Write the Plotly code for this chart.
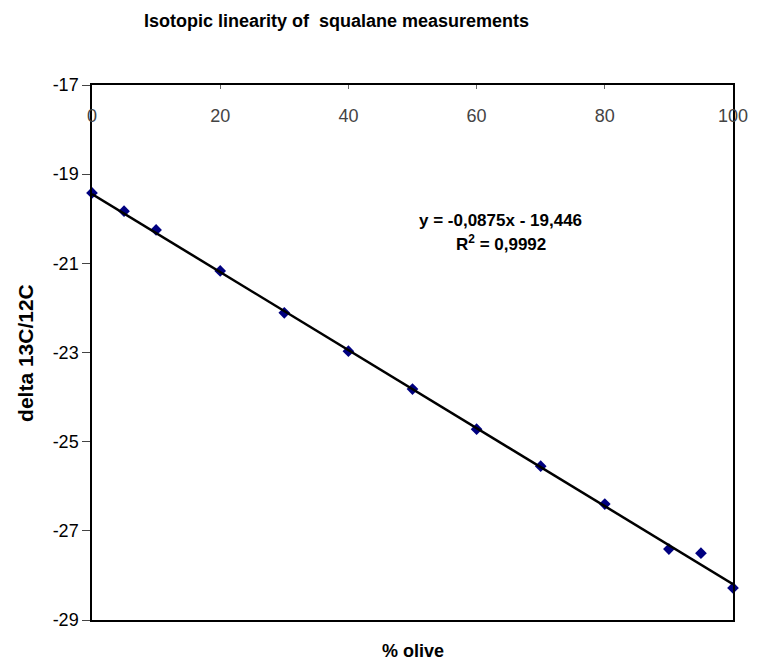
import plotly.graph_objects as go

olive_pct = [0, 5, 10, 20, 30, 40, 50, 60, 70, 80, 90, 95, 100]
delta_13c = [-19.42, -19.83, -20.25, -21.17, -22.11, -22.97, -23.82, -24.72, -25.55, -26.40, -27.41, -27.50, -28.28]
x_ticks = [0, 20, 40, 60, 80, 100]
y_ticks = [-17, -19, -21, -23, -25, -27, -29]
slope = -0.0875
intercept = -19.446
fit_x = [0, 100]
fit_y = [slope * x + intercept for x in fit_x]

font = "Liberation Sans, Arial, sans-serif"

W, H = 760, 663
l, r, t, b = 92, 18, 85, 43
pw, ph = W - l - r, H - t - b
def px_to_paper_x(px):
    return (px - l) / pw
def px_to_paper_y(py):
    return (H - b - py) / ph

fig = go.Figure()
fig.add_trace(go.Scatter(x=olive_pct, y=delta_13c, mode="markers",
                         marker=dict(symbol="diamond", color="#000080", size=9),
                         cliponaxis=False, showlegend=False))
fig.add_trace(go.Scatter(x=fit_x, y=fit_y, mode="lines",
                         line=dict(color="black", width=2.5),
                         cliponaxis=False, showlegend=False))

fig.update_layout(
    width=W, height=H,
    margin=dict(l=l, r=r, t=t, b=b),
    paper_bgcolor="white", plot_bgcolor="white",
    font=dict(family=font, size=18, color="black"),
    xaxis=dict(range=[0, 100], side="top", tickvals=x_ticks, ticktext=[str(v) for v in x_ticks],
               ticks="inside", ticklen=4, tickcolor="#666",
               ticklabelposition="inside", ticklabeloverflow="allow", ticklabelstandoff=21,
               showline=True, linecolor="black", linewidth=1.5, mirror=True,
               showgrid=False, zeroline=False,
               tickfont=dict(family=font, size=18)),
    yaxis=dict(range=[-29, -17], tickvals=y_ticks, ticktext=[str(v) for v in y_ticks],
               ticks="outside", ticklen=8, tickcolor="#444",
               ticklabelstandoff=0,
               showline=True, linecolor="black", linewidth=1.5, mirror=True,
               showgrid=False, zeroline=False,
               tickfont=dict(family=font, size=18)),
    annotations=[
        dict(text="<b>Isotopic linearity of  squalane measurements</b>",
             x=px_to_paper_x(340), y=px_to_paper_y(21), xref="paper", yref="paper",
             xanchor="center", yanchor="middle", showarrow=False, font=dict(size=18)),
        dict(text="<b>% olive</b>", x=0.5, y=px_to_paper_y(651), xref="paper", yref="paper",
             xanchor="center", yanchor="middle", showarrow=False, font=dict(size=18)),
        dict(text="<b>y = -0,0875x - 19,446</b>", x=63.8, y=-20.03, xref="x", yref="y",
             showarrow=False, font=dict(size=17)),
        dict(text="<b>R<sup>2</sup> = 0,9992</b>", x=63.8, y=-20.55, xref="x", yref="y",
             showarrow=False, font=dict(size=17)),
        dict(text="<b>delta 13C/12C</b>", x=px_to_paper_x(24), y=px_to_paper_y(353),
             xref="paper", yref="paper", xanchor="center", yanchor="middle",
             textangle=-90, showarrow=False, font=dict(size=21)),
    ],
)

fig.write_html("out.html")
